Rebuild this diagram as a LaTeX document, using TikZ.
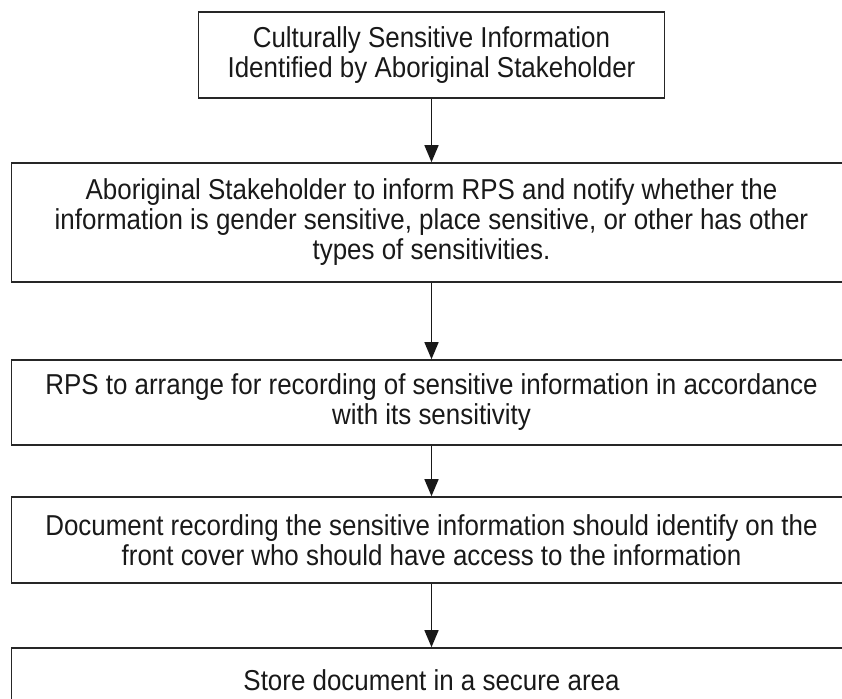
\documentclass[tikz,border=0pt]{standalone}
\usepackage{fontspec}
\setmainfont[FakeStretch=0.9]{Liberation Sans}
\usetikzlibrary{arrows.meta}
\begin{document}
\begin{tikzpicture}[x=1pt,y=-1pt,
  box/.style={draw=black!85, line width=1.6pt, align=center, inner sep=0pt,
    font=\fontsize{28.8}{30}\selectfont, text=black!90},
  widebox/.style={box, minimum width=840pt},
  flow/.style={draw=black!90, line width=1.4pt, -{Triangle[length=17pt,width=14pt]}}]
\useasboundingbox (0,0) rectangle (842,698);
\clip (0,0) rectangle (842,698);
\node[box, minimum width=466pt, minimum height=86pt] (b1) at (431.5,55)
  {Culturally Sensitive Information\\Identified by Aboriginal Stakeholder};
\node[widebox, minimum height=119pt] (b2) at (431.5,222.5)
  {Aboriginal Stakeholder to inform RPS and notify whether the\\information is gender sensitive, place sensitive, or other has other\\types of sensitivities.};
\node[widebox, minimum height=85pt] (b3) at (431.5,402.5)
  {RPS to arrange for recording of sensitive information in accordance\\with its sensitivity};
\node[widebox, minimum height=86pt] (b4) at (431.5,540)
  {Document recording the sensitive information should identify on the\\front cover who should have access to the information};
\node[widebox, minimum height=64pt] (b5) at (431.5,680)
  {Store document in a secure area};
\draw[flow] (b1) -- (b2);
\draw[flow] (b2) -- (b3);
\draw[flow] (b3) -- (b4);
\draw[flow] (b4) -- (b5);
\end{tikzpicture}
\end{document}
